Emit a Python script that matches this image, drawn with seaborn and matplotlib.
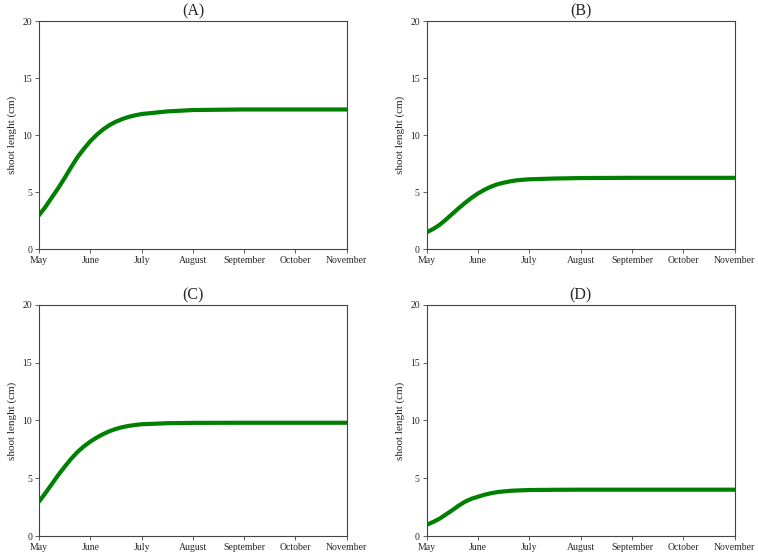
import matplotlib
matplotlib.use("Agg")
import matplotlib.pyplot as plt
import seaborn as sns
import pandas as pd

months_pos = [0, 0.125, 0.25, 0.375, 0.5, 0.625, 0.75, 0.875, 1.0, 1.125, 1.25,
              1.375, 1.5, 1.625, 1.75, 1.875, 2.0, 2.5, 3.0, 4.0, 5.0, 6.0]
month_labels = ['May', 'June', 'July', 'August', 'September', 'October', 'November']

shoot_a = [2.97, 3.7, 4.53, 5.35, 6.24, 7.18, 8.06, 8.8, 9.47, 10.03, 10.5,
           10.88, 11.18, 11.41, 11.6, 11.74, 11.85, 12.08, 12.2, 12.25, 12.25, 12.25]
shoot_b = [1.47, 1.76, 2.12, 2.59, 3.09, 3.59, 4.06, 4.5, 4.88, 5.2, 5.47,
           5.68, 5.82, 5.94, 6.03, 6.08, 6.12, 6.19, 6.23, 6.25, 6.25, 6.25]
shoot_c = [2.98, 3.72, 4.5, 5.28, 6.0, 6.68, 7.27, 7.76, 8.17, 8.52, 8.82,
           9.07, 9.27, 9.42, 9.53, 9.61, 9.67, 9.76, 9.79, 9.8, 9.8, 9.8]
shoot_d = [0.97, 1.22, 1.5, 1.87, 2.24, 2.64, 2.98, 3.23, 3.4, 3.57, 3.7,
           3.8, 3.86, 3.91, 3.94, 3.96, 3.98, 4.0, 4.01, 4.01, 4.01, 4.01]

panels = ['(A)', '(B)', '(C)', '(D)']
series = [shoot_a, shoot_b, shoot_c, shoot_d]

sns.set_style("ticks")
plt.rcParams['font.family'] = ['Liberation Serif', 'DejaVu Serif']

fig = plt.figure(figsize=(7.58, 5.53), dpi=100)
# axes boxes [left, bottom, width, height] in figure fractions
boxes = [
    [0.0515, 0.5497, 0.406, 0.412],
    [0.5630, 0.5497, 0.406, 0.412],
    [0.0515, 0.0307, 0.406, 0.418],
    [0.5630, 0.0307, 0.406, 0.418],
]

for box, title, vals in zip(boxes, panels, series):
    ax = fig.add_axes(box)
    df = pd.DataFrame({'month': months_pos, 'length': vals})
    sns.lineplot(data=df, x='month', y='length', ax=ax, color='green', linewidth=3)
    ax.set_xlim(0, 6)
    ax.set_ylim(0, 20)
    ax.set_xticks(range(7))
    ax.set_xticklabels(month_labels)
    ax.set_yticks([0, 5, 10, 15, 20])
    ax.tick_params(labelsize=7, length=3, width=0.6, color='#444444', pad=2)
    ax.set_xlabel('')
    ax.set_ylabel('shoot lenght (cm)', fontsize=8)
    ax.set_title(title, fontsize=11.5, pad=4)
    for sp in ax.spines.values():
        sp.set_linewidth(0.8)
        sp.set_color('#444444')
        sp.set_visible(True)

fig.savefig('out.png', dpi=100)
